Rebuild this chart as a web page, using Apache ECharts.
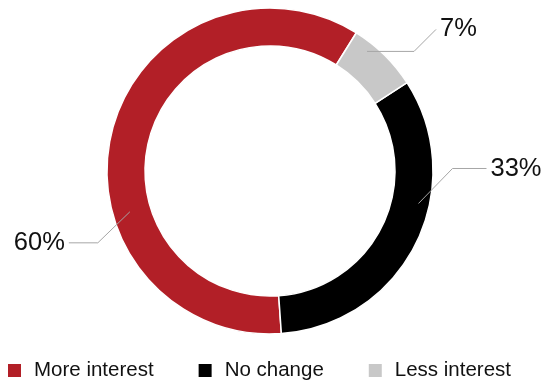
<!DOCTYPE html>
<html>
<head>
<meta charset="utf-8">
<script src="https://cdn.jsdelivr.net/npm/echarts@6/dist/echarts.min.js"></script>
<style>
  html, body { margin: 0; padding: 0; background: #fff; }
  #chart { width: 544px; height: 380px; }
</style>
</head>
<body>
<div id="chart"></div>
<script>
// Survey shares
const categories = ['More interest', 'No change', 'Less interest'];
const shares = [60, 33, 7];
const colors = ['#B21F27', '#000000', '#C8C8C8'];

const CX = 270, CY = 171;
const START_ANGLE = 58;           // ring is swept counterclockwise from here
const FONT = '"Liberation Sans", Arial, Helvetica, sans-serif';

// Leader line per label: position along its slice (0..1), radius of the start
// point, then the two segment offsets, and which side the text sits on.
const leaders = [
  { at: 0.64, r: 146, seg1: [-32, 31], seg2: [-29, 0], align: 'right' },
  { at: 0.62, r: 152, seg1: [34, -35], seg2: [34, 0], align: 'left' },
  { at: 0.72, r: 154, seg1: [47, 0], seg2: [22, -22], align: 'left' }
];

const total = shares.reduce((a, b) => a + b, 0);
const sliceStart = [];
let acc = START_ANGLE;
shares.forEach(v => { sliceStart.push(acc); acc += 360 * v / total; });

function leaderPoints(i) {
  const L = leaders[i];
  const sweep = 360 * shares[i] / total;
  const a = (sliceStart[i] + sweep * L.at) * Math.PI / 180;
  const p0 = [CX + L.r * Math.cos(a), CY - L.r * Math.sin(a)];
  const p1 = [p0[0] + L.seg1[0], p0[1] + L.seg1[1]];
  const p2 = [p1[0] + L.seg2[0], p1[1] + L.seg2[1]];
  return [p0, p1, p2];
}

const chart = echarts.init(document.getElementById('chart'), null, { renderer: 'canvas' });

chart.setOption({
  animation: false,
  backgroundColor: '#ffffff',
  color: colors,
  legend: {
    data: categories,
    left: 6,
    top: 360,
    padding: 0,
    icon: 'rect',
    itemWidth: 15,
    itemHeight: 15,
    itemGap: 43,
    selectedMode: false,
    textStyle: {
      fontFamily: FONT,
      fontSize: 20.5,
      color: '#111',
      lineHeight: 20,
      padding: [0, 0, 0, 7]
    }
  },
  series: [{
    type: 'pie',
    name: 'shares',
    center: [CX, CY],
    radius: [125, 163],
    startAngle: START_ANGLE,
    clockwise: false,
    avoidLabelOverlap: false,
    silent: true,
    emphasis: { disabled: true },
    itemStyle: { borderColor: '#ffffff', borderWidth: 1.5 },
    label: {
      show: true,
      position: 'outside',
      formatter: '{c}%',
      fontFamily: FONT,
      fontSize: 25.5,
      color: '#111'
    },
    labelLine: { show: false },
    labelLayout: function (params) {
      const i = params.dataIndex;
      const end = leaderPoints(i)[2];
      const right = leaders[i].align === 'right';
      return {
        x: end[0] + (right ? -4 : 4),
        y: end[1],
        align: leaders[i].align,
        verticalAlign: 'middle'
      };
    },
    data: categories.map((name, i) => ({ name: name, value: shares[i] }))
  }, {
    // leader lines joining each slice to its percentage label
    type: 'custom',
    coordinateSystem: 'none',
    silent: true,
    z: 3,
    data: shares,
    renderItem: function (params) {
      return {
        type: 'polyline',
        shape: { points: leaderPoints(params.dataIndex) },
        style: { stroke: '#A6A6A6', lineWidth: 1, fill: null }
      };
    }
  }]
});
</script>
</body>
</html>
